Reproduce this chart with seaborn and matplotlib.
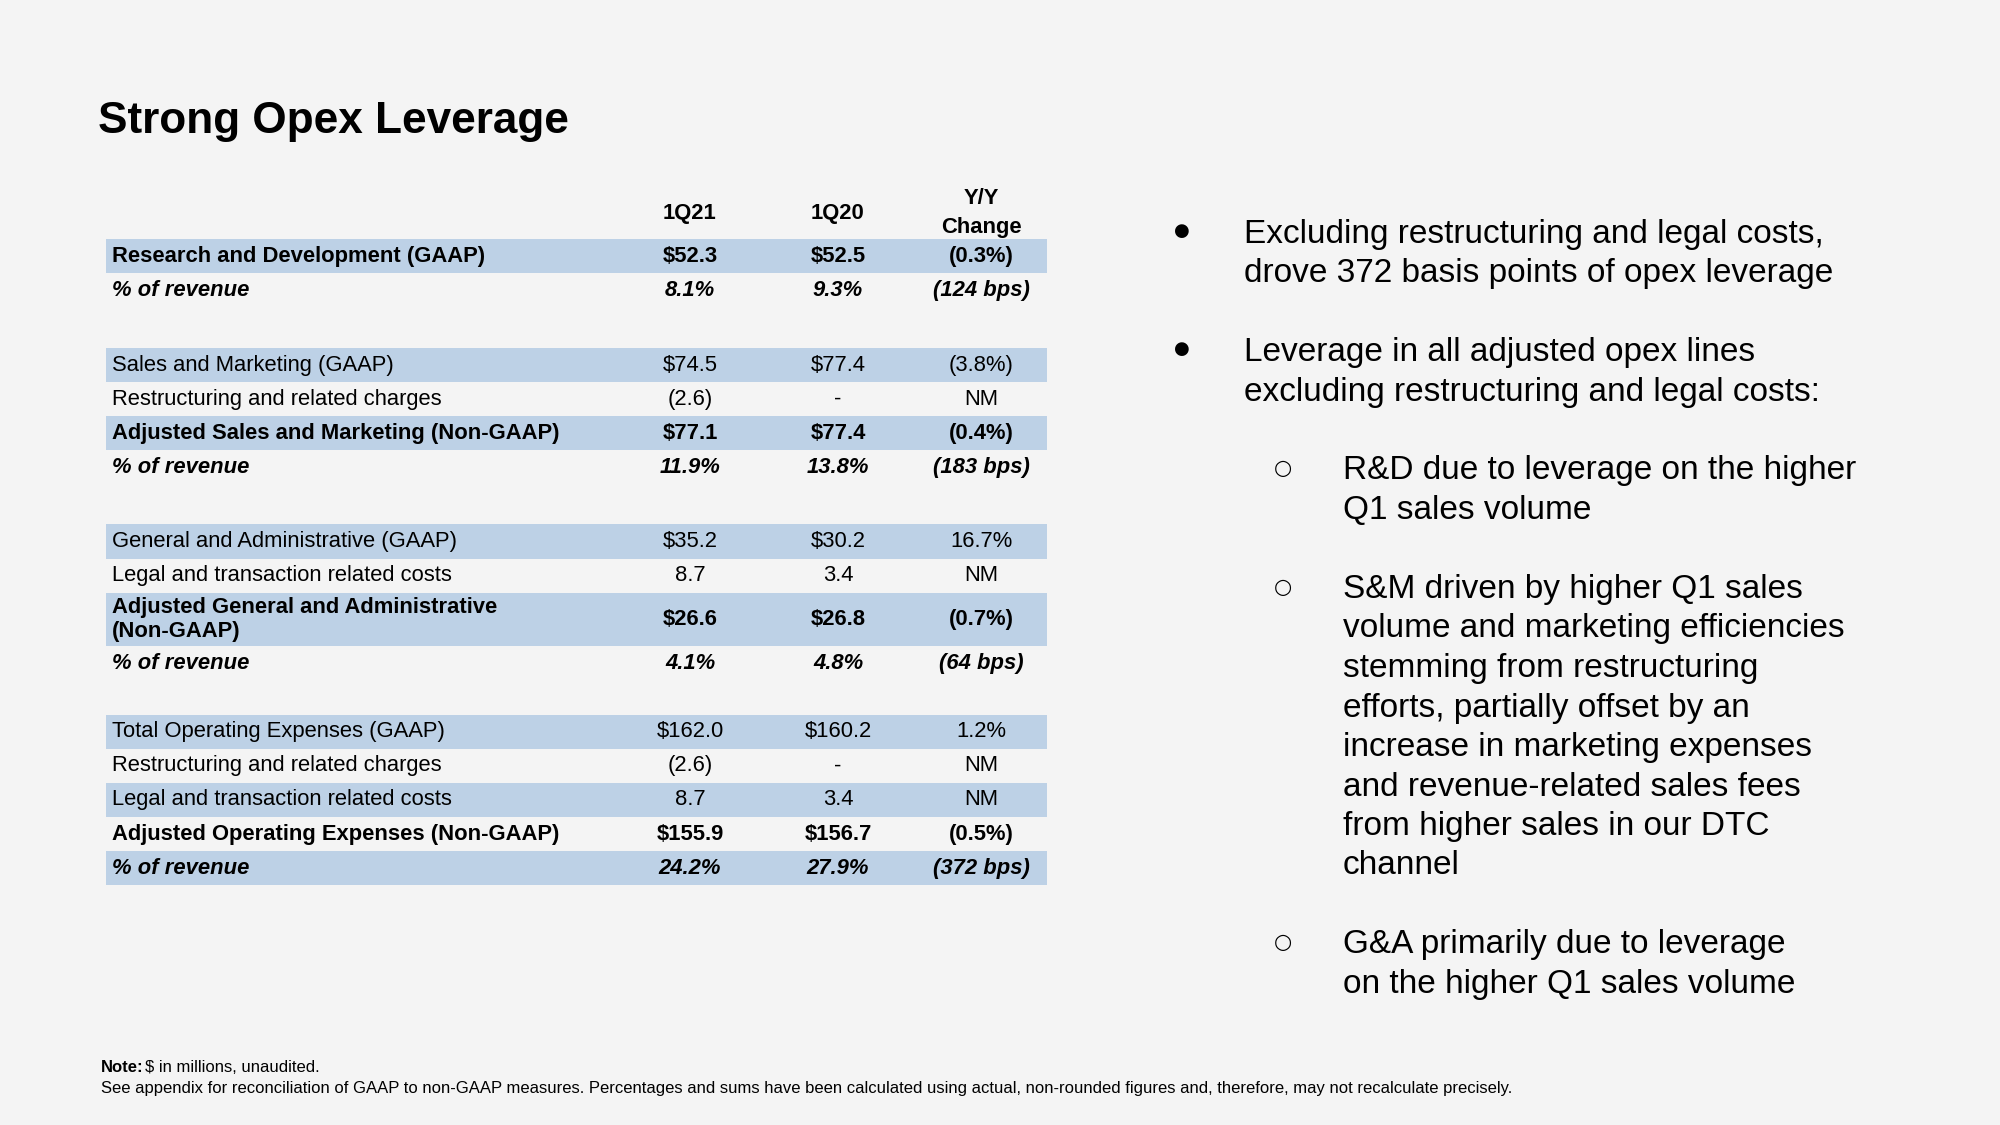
import matplotlib
matplotlib.use("Agg")
import matplotlib.pyplot as plt
import seaborn as sns
import numpy as np

# table data
row_labels = [
    "Research and Development (GAAP)", "% of revenue",
    "Sales and Marketing (GAAP)", "Restructuring and related charges",
    "Adjusted Sales and Marketing (Non-GAAP)", "% of revenue",
    "General and Administrative (GAAP)", "Legal and transaction related costs",
    "Adjusted General and Administrative\n(Non-GAAP)", "% of revenue",
    "Total Operating Expenses (GAAP)", "Restructuring and related charges",
    "Legal and transaction related costs", "Adjusted Operating Expenses (Non-GAAP)",
    "% of revenue",
]
q1_21 = ["$52.3", "8.1%",
         "$74.5", "(2.6)", "$77.1", "11.9%",
         "$35.2", "8.7", "$26.6", "4.1%",
         "$162.0", "(2.6)", "8.7", "$155.9", "24.2%"]
q1_20 = ["$52.5", "9.3%",
         "$77.4", "-", "$77.4", "13.8%",
         "$30.2", "3.4", "$26.8", "4.8%",
         "$160.2", "-", "3.4", "$156.7", "27.9%"]
yoy = ["(0.3%)", "(124 bps)",
       "(3.8%)", "NM", "(0.4%)", "(183 bps)",
       "16.7%", "NM", "(0.7%)", "(64 bps)",
       "1.2%", "NM", "NM", "(0.5%)", "(372 bps)"]
col_headers = ["1Q21", "1Q20", "Y/Y\nChange"]
group_sizes = [2, 4, 4, 5]

# (level, lines)
bullet_items = [
    (0, ["Excluding restructuring and legal costs,",
         "drove 372 basis points of opex leverage"]),
    (0, ["Leverage in all adjusted opex lines",
         "excluding restructuring and legal costs:"]),
    (1, ["R&D due to leverage on the higher",
         "Q1 sales volume"]),
    (1, ["S&M driven by higher Q1 sales",
         "volume and marketing efficiencies",
         "stemming from restructuring",
         "efforts, partially offset by an",
         "increase in marketing expenses",
         "and revenue-related sales fees",
         "from higher sales in our DTC",
         "channel"]),
    (1, ["G&A primarily due to leverage",
         "on the higher Q1 sales volume"]),
]

# styles / layout
row_style = ["bold", "bi",
             "normal", "normal", "bold", "bi",
             "normal", "normal", "bold", "bi",
             "normal", "normal", "normal", "bold", "bi"]
row_height = [1, 1, 1, 1, 1, 1, 1, 1, 1.58, 1, 1, 1, 1, 1, 1]
spacers = [1.2, 1.17, 1.0]
unit = 34.1
table_top = 239
table_left, table_right = 106, 1047
label_x = 112
col_x = [690, 838, 981]
bg = "#f4f4f4"
band = "#bdd1e6"

sns.set_theme(style="white", rc={"figure.facecolor": bg, "axes.facecolor": bg,
                                 "text.color": "black"})
plt.rcParams["font.family"] = ["Liberation Sans", "DejaVu Sans"]

fig = plt.figure(figsize=(20, 11.25), dpi=100)
ax = fig.add_axes([0, 0, 1, 1])
ax.set_xlim(0, 2000)
ax.set_ylim(1125, 0)
ax.axis("off")

# row geometry
centers, heights, shaded = [], [], []
y = table_top
i = 0
for g, n in enumerate(group_sizes):
    for k in range(n):
        h = row_height[i] * unit
        centers.append(y + h / 2)
        heights.append(h)
        shaded.append(k % 2 == 0)
        y += h
        i += 1
    if g < len(spacers):
        y += spacers[g] * unit

centers = np.array(centers)
heights = np.array(heights)
shaded = np.array(shaded)
ax.barh(centers[shaded], table_right - table_left, left=table_left,
        height=heights[shaded], color=band, edgecolor="none", zorder=1)

fs = 15.8
for r, lab in enumerate(row_labels):
    st = row_style[r]
    kw = dict(fontsize=fs, color="black", va="center", zorder=3,
              fontweight="bold" if st in ("bold", "bi") else "normal",
              fontstyle="italic" if st == "bi" else "normal")
    ax.text(label_x, centers[r], lab, ha="left", linespacing=1.15, **kw)
    for cx, vals in zip(col_x, (q1_21, q1_20, yoy)):
        ax.text(cx, centers[r], vals[r], ha="center", **kw)

for cx, hd in zip(col_x, col_headers):
    ax.text(cx, 213, hd, ha="center", va="center", multialignment="center",
            fontsize=fs, fontweight="bold", linespacing=1.55)

# title
ax.text(98, 121, "Strong Opex Leverage", fontsize=31.8, fontweight="bold",
        ha="left", va="center")

# right-hand bullets on a fixed line grid
line_h = 39.5
bfs = 24
y0 = 234
for level, lines in bullet_items:
    mark = "\u25cf" if level == 0 else "\u25cb"
    mx = 1182 if level == 0 else 1283
    tx = 1244 if level == 0 else 1343
    ax.text(mx, y0 - 3, mark, fontsize=13 if level == 0 else 15, ha="center",
            va="center", family=["DejaVu Sans"])
    for ln in lines:
        ax.text(tx, y0, ln, fontsize=bfs, ha="left", va="center")
        y0 += line_h
    y0 += line_h

# footnote
nfs = 12
ax.text(101, 1068, "Note:", fontsize=nfs, fontweight="bold", ha="left", va="center")
ax.text(145, 1068, "$ in millions, unaudited.", fontsize=nfs, ha="left", va="center")
ax.text(101, 1089, "See appendix for reconciliation of GAAP to non-GAAP measures. Percentages and "
        "sums have been calculated using actual, non-rounded figures and, therefore, may not "
        "recalculate precisely.", fontsize=nfs, ha="left", va="center")

fig.savefig("out.png", dpi=100, facecolor=bg)
